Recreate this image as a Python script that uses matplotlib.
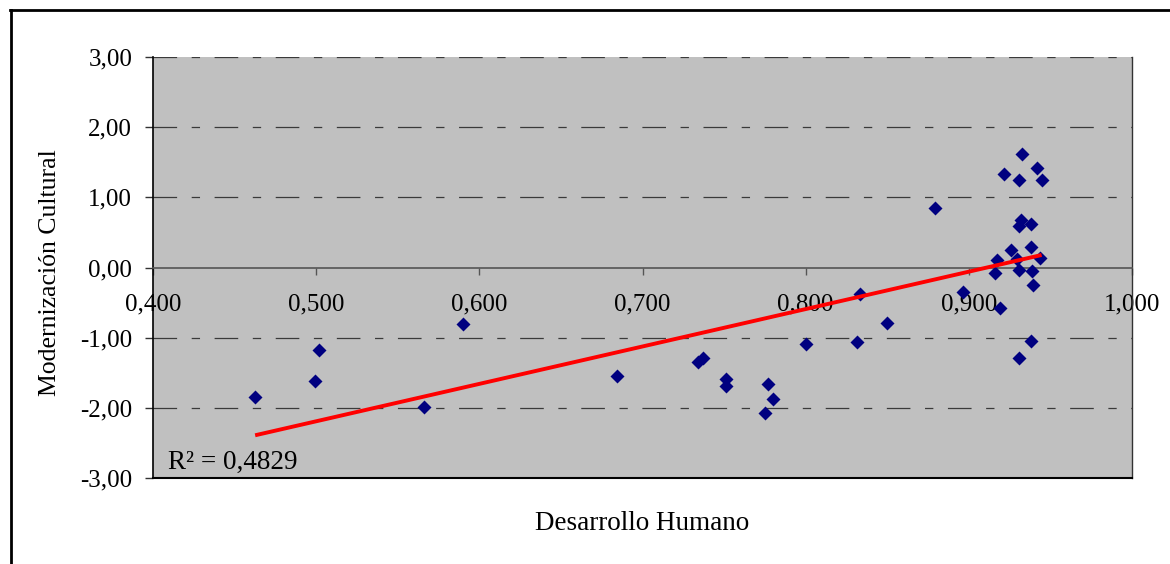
import numpy as np
import matplotlib
matplotlib.use("Agg")
import matplotlib.pyplot as plt
from matplotlib.lines import Line2D
from matplotlib.ticker import FuncFormatter

plt.rcParams['font.family'] = ['Liberation Serif', 'DejaVu Serif']
plt.rcParams['lines.scale_dashes'] = False

# Data (Desarrollo Humano vs Modernización Cultural)
desarrollo_humano = [
    0.4626, 0.4990, 0.5018, 0.5663, 0.5900, 0.6845,
    0.7343, 0.7371, 0.7513, 0.7513, 0.7772, 0.7801, 0.7749,
    0.8005, 0.8312, 0.8332, 0.8501, 0.8793, 0.8967,
    0.9173, 0.9161, 0.9188, 0.9213, 0.9258, 0.9294, 0.9309, 0.9309,
    0.9309, 0.9323, 0.9319, 0.9309, 0.9380, 0.9382, 0.9385, 0.9394,
    0.9382, 0.9419, 0.9446, 0.9434,
]
modernizacion_cultural = [
    -1.852, -1.624, -1.174, -1.994, -0.803, -1.544,
    -1.345, -1.288, -1.595, -1.691, -1.658, -1.880, -2.080,
    -1.088, -1.060, -0.376, -0.798, 0.849, -0.352,
    0.100, -0.077, -0.575, 1.333, 0.256, 0.128, -0.038, 1.244,
    0.593, 1.624, 0.674, -1.292, 0.617, 0.289, -0.043, -0.256,
    -1.054, 1.419, 1.244, 0.137,
]
r2_label = "R² = 0,4829"
x_ticks = [0.4, 0.5, 0.6, 0.7, 0.8, 0.9, 1.0]
y_ticks = [-3, -2, -1, 0, 1, 2, 3]

W, H = 1170, 564
fig = plt.figure(figsize=(W / 100, H / 100), dpi=100)
fig.patch.set_facecolor('white')
ax = fig.add_axes([153 / W, 1 - 478 / H, (1132 - 153) / W, (478 - 57) / H])
ax.set_facecolor('#C0C0C0')
ax.set_xlim(0.4, 1.0)
ax.set_ylim(-3, 3)

# Gridlines (dashed long-short pattern)
for yv in [-2, -1, 1, 2, 3]:
    ax.axhline(yv, color='#3a3a3a', lw=0.9, linestyle=(0, (17, 10.5, 6, 10.5)), zorder=1)

# Scatter points
ax.plot(desarrollo_humano, modernizacion_cultural, linestyle='none', marker='D',
        ms=7.5, color='#000080', mec='none', zorder=3)

# Linear trendline
xs = np.array(desarrollo_humano)
ys = np.array(modernizacion_cultural)
m, b = np.polyfit(xs, ys, 1)
xl = np.array([xs.min(), xs.max()])
ax.plot(xl, m * xl + b, color='#FF0000', lw=2.8, zorder=4, solid_capstyle='butt')

# Spines
ax.spines['bottom'].set_position(('data', 0))
ax.spines['bottom'].set_color('#555555')
ax.spines['bottom'].set_linewidth(1.2)
ax.spines['top'].set_visible(False)
ax.spines['left'].set_color('black')
ax.spines['left'].set_linewidth(1.2)
ax.spines['right'].set_color('#333333')
ax.spines['right'].set_linewidth(1.0)
ax.axhline(-3, color='black', lw=1.5, clip_on=False, zorder=5)

ax.set_xticks(x_ticks)
ax.set_yticks(y_ticks)
ax.xaxis.set_major_formatter(FuncFormatter(lambda v, p: f"{v:.3f}".replace('.', ',')))
ax.yaxis.set_major_formatter(FuncFormatter(lambda v, p: f"{v:.2f}".replace('.', ',')))
ax.tick_params(axis='x', direction='out', length=5, width=1, color='#555555',
               pad=14, labelsize=18)
ax.tick_params(axis='y', direction='out', length=6, width=1, color='#333333',
               pad=9, labelsize=18)

ax.text(0.0155, 0.008, r2_label, transform=ax.transAxes, fontsize=19.5,
        ha='left', va='bottom')

fig.text(50 / W, 1 - 273 / H, "Modernización Cultural", rotation=90,
         ha='center', va='center', fontsize=18.5)
fig.text(642 / W, 1 - 524 / H, "Desarrollo Humano", ha='center', va='center',
         fontsize=19.5)

# Outer chart frame (left and top edges)
fig.add_artist(Line2D([11 / W, 11 / W], [0, 1 - 10 / H], color='black', lw=2,
                      transform=fig.transFigure))
fig.add_artist(Line2D([10 / W, 1], [1 - 10 / H, 1 - 10 / H], color='black', lw=2,
                      transform=fig.transFigure))

fig.savefig('out.png', dpi=100, facecolor='white')
